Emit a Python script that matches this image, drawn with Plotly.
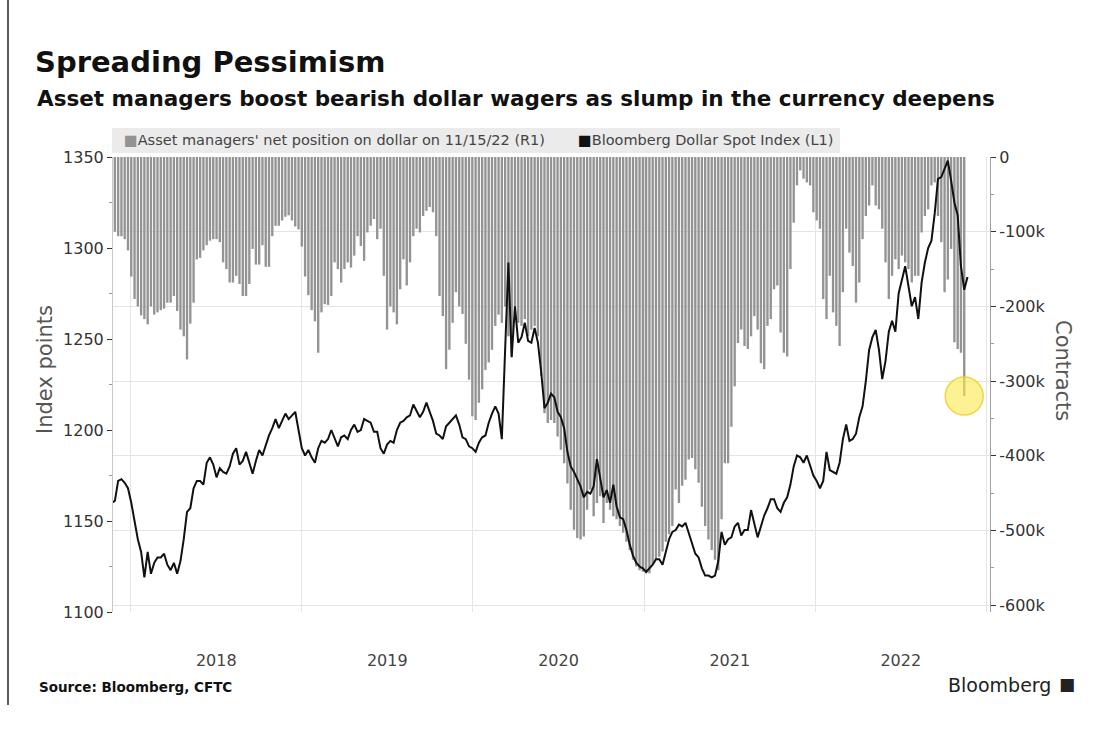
import pandas as pd
import plotly.graph_objects as go

# Weekly observations (Tuesdays) from 2017-11-21 through 2022-11-15
first_week = "2017-11-21"

# Asset managers' net position on the dollar, contracts (right axis)
net_position = [
    -85, -100, -106, -106, -110, -125, -160, -190, -200, -212,
    -217, -224, -200, -211, -208, -205, -203, -195, -195, -186,
    -206, -231, -240, -271, -223, -195, -137, -135, -125, -118,
    -112, -110, -110, -114, -141, -150, -168, -168, -159, -170,
    -186, -186, -170, -123, -144, -144, -118, -147, -147, -106,
    -92, -92, -85, -80, -78,
    -85, -93, -97, -120, -160, -185, -205, -220, -262, -208,
    -197, -198, -186, -141, -150, -168, -150, -141, -148, -132,
    -106, -119, -139, -101, -92, -83, -110, -96, -159, -231,
    -200, -208, -224, -177, -137, -172, -141, -106, -96, -101,
    -79, -72, -67, -74, -106, -186, -213, -284, -258, -222,
    -181, -200, -210,
    -250, -298, -347, -352, -329, -311, -285, -275, -258, -226,
    -211, -222, -200, -240, -267, -200, -222, -226, -217, -240,
    -231, -226, -240, -293, -343, -356, -352, -356, -374, -392,
    -410, -437, -472, -499, -510, -512, -508, -472, -445, -481,
    -463, -454, -490, -463, -472, -481, -485, -494, -503, -515,
    -526, -539, -548, -553,
    -555, -557, -557, -545, -539, -535, -528, -515, -505, -494,
    -445, -463, -440, -432, -405, -403, -418, -436, -468, -494,
    -512, -526, -539, -553, -485, -410, -410, -361, -307, -249,
    -231, -253, -257, -240, -213, -231, -276, -284, -226, -217,
    -177, -172, -235, -262, -267, -150, -88, -38, -18, -29,
    -34, -38, -74,
    -85, -96, -190, -217, -159, -208, -226, -253, -181, -96,
    -128, -146, -195, -168, -110, -79, -65, -38, -65, -70,
    -96, -141, -190, -159, -137, -150, -132, -141, -150, -168,
    -159, -159, -101, -79, -70, -38, -34, -79, -114, -181,
    -164, -123, -248, -257, -262, -320,
]  # thousands of contracts

# Bloomberg Dollar Spot Index, index points (left axis); one extra week at the end
dollar_index = [
    1160, 1161, 1172, 1173, 1171, 1168, 1160, 1149, 1140, 1133,
    1119, 1133, 1121, 1127, 1130, 1130, 1132, 1126, 1123, 1127,
    1121, 1128, 1140, 1155, 1157, 1168, 1172, 1172, 1170, 1182,
    1185, 1181, 1174, 1179, 1177, 1176, 1180, 1187, 1190, 1181,
    1183, 1188, 1182, 1176, 1183, 1189, 1186, 1192, 1197, 1201,
    1206, 1201, 1205, 1209, 1206,
    1208, 1210, 1200, 1190, 1186, 1189, 1185, 1182, 1190, 1194,
    1193, 1195, 1200, 1195, 1191, 1196, 1197, 1195, 1200, 1203,
    1199, 1200, 1206, 1205, 1204, 1199, 1199, 1190, 1187, 1192,
    1194, 1193, 1200, 1204, 1205, 1207, 1208, 1214, 1210, 1207,
    1210, 1215, 1210, 1205, 1198, 1197, 1195, 1202, 1204, 1206,
    1208, 1203, 1196,
    1195, 1191, 1190, 1188, 1193, 1196, 1197, 1204, 1209, 1213,
    1209, 1195, 1244, 1292, 1240, 1268, 1248, 1251, 1259, 1249,
    1248, 1256, 1248, 1232, 1212, 1215, 1220, 1218, 1210, 1207,
    1201, 1188, 1180, 1177, 1173, 1169, 1163, 1166, 1165, 1169,
    1184, 1174, 1163, 1167, 1160, 1170, 1158, 1152, 1151, 1145,
    1137, 1131, 1127, 1125,
    1124, 1122, 1124, 1126, 1129, 1129, 1126, 1133, 1140, 1144,
    1145, 1148, 1147, 1149, 1143, 1138, 1132, 1130, 1124, 1120,
    1120, 1119, 1120, 1128, 1144, 1137, 1140, 1141, 1147, 1149,
    1142, 1145, 1145, 1156, 1148, 1141, 1147, 1153, 1157, 1162,
    1162, 1157, 1155, 1160, 1163, 1170, 1180, 1186, 1185, 1182,
    1186, 1181, 1175,
    1172, 1168, 1172, 1188, 1178, 1177, 1176, 1182, 1195, 1203,
    1194, 1195, 1198, 1207, 1213, 1227, 1244, 1251, 1255, 1244,
    1228, 1238, 1254, 1260, 1254, 1275, 1282, 1290, 1279, 1268,
    1273, 1261, 1281, 1292, 1300, 1304, 1319, 1338, 1339, 1343,
    1348, 1337, 1325, 1318, 1290, 1277, 1284,
]

contract_ticks = [0, -100, -200, -300, -400, -500, -600]
contract_tick_text = ["0", "-100k", "-200k", "-300k", "-400k", "-500k", "-600k"]
index_ticks = [1100, 1150, 1200, 1250, 1300, 1350]

bar_dates = pd.date_range(first_week, periods=len(net_position), freq="7D")
line_dates = pd.date_range(first_week, periods=len(dollar_index), freq="7D")
bar_values = [v * 1000 for v in net_position]

BAR_GREY = "#939393"
FONT = "DejaVu Sans"

# plot-area pixel box, used to place the free-floating texts
L, R, T, B = 113, 990, 157, 612
W, H = 1101, 742
px = lambda x: (x - L) / (R - L)
py = lambda y: (B - y) / (B - T)

fig = go.Figure()

fig.add_trace(go.Bar(
    x=bar_dates, y=bar_values, yaxis="y",
    marker=dict(color=BAR_GREY, line=dict(width=0)),
    name="Asset managers' net position on dollar on 11/15/22 (R1)",
))

fig.add_trace(go.Scatter(
    x=line_dates, y=dollar_index, yaxis="y2", mode="lines",
    line=dict(color="#111111", width=2),
    name="Bloomberg Dollar Spot Index (L1)",
))

# highlight on the latest positioning reading
fig.add_trace(go.Scatter(
    x=[bar_dates[-1]], y=[bar_values[-1]], yaxis="y", mode="markers",
    marker=dict(size=38, color="rgba(250,234,80,0.62)",
                line=dict(color="rgba(235,205,40,0.8)", width=1.5)),
    showlegend=False, hoverinfo="skip",
))

fig.update_layout(
    width=W, height=H,
    margin=dict(l=L, r=W - R, t=T, b=H - B),
    paper_bgcolor="white", plot_bgcolor="white",
    showlegend=False,
    bargap=0.28,
    font=dict(family=FONT, color="#333333"),
    title=dict(
        text="<b>Spreading Pessimism</b>",
        font=dict(family=FONT, size=29, color="#111111"),
        xref="container", yref="container",
        x=35 / W, xanchor="left", y=1 - 62 / H, yanchor="middle",
    ),
    xaxis=dict(
        type="date", range=["2017-11-24", "2023-01-09"],
        tick0="2018-01-01", dtick="M12", tickformat="%Y",
        ticklabelmode="period", ticks="",
        showgrid=True, gridcolor="#e4e4e4", gridwidth=1,
        zeroline=False, showline=False,
        tickfont=dict(size=16, color="#444444"),
        ticklabelstandoff=37,
    ),
    yaxis=dict(
        side="right", range=[-609000, 0],
        tickmode="array", tickvals=[v * 1000 for v in contract_ticks],
        ticktext=contract_tick_text,
        ticks="outside", ticklen=5, tickcolor="#333333",
        minor=dict(tickmode="linear", tick0=0, dtick=50000, ticks="outside",
                   ticklen=3, tickcolor="#999999", showgrid=False),
        showgrid=True, gridcolor="#e4e4e4", gridwidth=1,
        zeroline=False, showline=True, linecolor="#a0a0a0", linewidth=1,
        tickfont=dict(size=16, color="#333333"),
    ),
    yaxis2=dict(
        overlaying="y", side="left", range=[1100, 1350],
        tickmode="array", tickvals=index_ticks,
        ticks="outside", ticklen=5, tickcolor="#333333",
        minor=dict(tickmode="linear", tick0=1100, dtick=25, ticks="outside",
                   ticklen=3, tickcolor="#999999", showgrid=False),
        showgrid=False, zeroline=False,
        showline=True, linecolor="#c8c8c8", linewidth=1,
        tickfont=dict(size=16, color="#333333"),
    ),
)

# legend band
fig.add_shape(type="rect", xref="paper", yref="paper",
              x0=px(112), x1=px(840), y0=py(153), y1=py(128),
              fillcolor="#ebebeb", line=dict(width=0), layer="below")

annotations = [
    dict(text="<b>Asset managers boost bearish dollar wagers as slump in the currency deepens</b>",
         x=px(35), y=py(98), xanchor="left", yanchor="middle",
         font=dict(size=21.5, color="#111111")),
    dict(text=f"<span style='color:{BAR_GREY}'>■</span>Asset managers' net position on dollar on 11/15/22 (R1)",
         x=px(122), y=py(140), xanchor="left", yanchor="middle",
         font=dict(size=14.5, color="#444444")),
    dict(text="<span style='color:#111111'>■</span>Bloomberg Dollar Spot Index (L1)",
         x=px(576), y=py(140), xanchor="left", yanchor="middle",
         font=dict(size=14.5, color="#444444")),
    dict(text="Index points", x=px(45), y=py(370), textangle=-90,
         xanchor="center", yanchor="middle",
         font=dict(size=21, color="#555555")),
    dict(text="Contracts", x=px(1063), y=py(370), textangle=90,
         xanchor="center", yanchor="middle",
         font=dict(size=21, color="#555555")),
    dict(text="<b>Source: Bloomberg, CFTC</b>", x=px(37), y=py(687),
         xanchor="left", yanchor="middle",
         font=dict(size=13.5, color="#111111")),
    dict(text="Bloomberg", x=px(1053), y=py(685), xanchor="right", yanchor="middle",
         font=dict(size=19, color="#222222")),
    dict(text="■", x=px(1067), y=py(684), xanchor="center", yanchor="middle",
         font=dict(size=17, color="#222222")),
]
for a in annotations:
    a.update(xref="paper", yref="paper", showarrow=False)
    fig.add_annotation(**a)

# page frame edge on the left
fig.add_shape(type="line", xref="paper", yref="paper",
              x0=px(8), x1=px(8), y0=py(0), y1=py(705),
              line=dict(color="#222222", width=1.5))

fig.write_html("out.html")
